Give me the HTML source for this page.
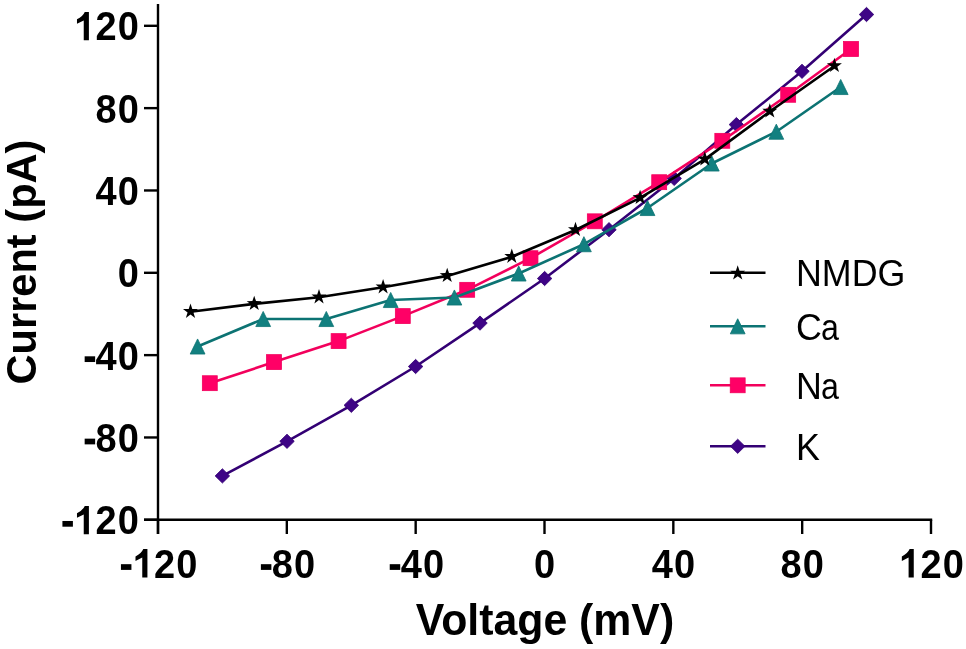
<!DOCTYPE html>
<html><head><meta charset="utf-8"><style>
html,body{margin:0;padding:0;background:#fff;}
body{width:966px;height:649px;overflow:hidden;}
svg{display:block;will-change:transform;}
.tl{font-family:"Liberation Sans",sans-serif;font-weight:bold;font-size:40px;fill:#000;}
.at{font-family:"Liberation Sans",sans-serif;font-weight:bold;font-size:42px;fill:#000;}
.lg{font-family:"Liberation Sans",sans-serif;font-size:35.8px;fill:#000;}
</style></head><body>
<svg width="966" height="649" viewBox="0 0 966 649">
<rect width="966" height="649" fill="#fff"/>
<line x1="158.0" y1="4.0" x2="158.0" y2="534.0" stroke="#000" stroke-width="2.4"/>
<line x1="144.0" y1="519.8" x2="932.2" y2="519.8" stroke="#000" stroke-width="2.4"/>
<line x1="144" y1="25.80" x2="158.0" y2="25.80" stroke="#000" stroke-width="2.4"/>
<path d="M83.74,40.30 L88.90,40.30 L88.90,11.91 L84.78,11.91 Q82.98,16.07 76.98,19.34 L76.98,23.86 L83.74,20.39 L83.74,40.30 Z" fill="#000"/>
<text transform="translate(106.14,40.30) scale(0.950,1.035)" class="tl" x="-11.12">2</text>
<text transform="translate(128.38,40.30) scale(0.950,1.035)" class="tl" x="-11.12">0</text>
<line x1="144" y1="108.13" x2="158.0" y2="108.13" stroke="#000" stroke-width="2.4"/>
<text transform="translate(106.14,122.63) scale(0.950,1.035)" class="tl" x="-11.12">8</text>
<text transform="translate(128.38,122.63) scale(0.950,1.035)" class="tl" x="-11.12">0</text>
<line x1="144" y1="190.47" x2="158.0" y2="190.47" stroke="#000" stroke-width="2.4"/>
<text transform="translate(106.14,204.97) scale(0.950,1.035)" class="tl" x="-11.12">4</text>
<text transform="translate(128.38,204.97) scale(0.950,1.035)" class="tl" x="-11.12">0</text>
<line x1="144" y1="272.80" x2="158.0" y2="272.80" stroke="#000" stroke-width="2.4"/>
<text transform="translate(128.38,287.30) scale(0.950,1.035)" class="tl" x="-11.12">0</text>
<line x1="144" y1="355.13" x2="158.0" y2="355.13" stroke="#000" stroke-width="2.4"/>
<rect x="84.66" y="356.31" width="10.48" height="5.72" fill="#000"/>
<text transform="translate(106.14,369.63) scale(0.950,1.035)" class="tl" x="-11.12">4</text>
<text transform="translate(128.38,369.63) scale(0.950,1.035)" class="tl" x="-11.12">0</text>
<line x1="144" y1="437.47" x2="158.0" y2="437.47" stroke="#000" stroke-width="2.4"/>
<rect x="84.66" y="438.65" width="10.48" height="5.72" fill="#000"/>
<text transform="translate(106.14,451.97) scale(0.950,1.035)" class="tl" x="-11.12">8</text>
<text transform="translate(128.38,451.97) scale(0.950,1.035)" class="tl" x="-11.12">0</text>
<line x1="144" y1="519.80" x2="158.0" y2="519.80" stroke="#000" stroke-width="2.4"/>
<rect x="62.42" y="520.98" width="10.48" height="5.72" fill="#000"/>
<path d="M83.74,534.30 L88.90,534.30 L88.90,505.91 L84.78,505.91 Q82.98,510.07 76.98,513.34 L76.98,517.86 L83.74,514.39 L83.74,534.30 Z" fill="#000"/>
<text transform="translate(106.14,534.30) scale(0.950,1.035)" class="tl" x="-11.12">2</text>
<text transform="translate(128.38,534.30) scale(0.950,1.035)" class="tl" x="-11.12">0</text>
<line x1="158.00" y1="519.8" x2="158.00" y2="534" stroke="#000" stroke-width="2.4"/>
<rect x="120.94" y="564.18" width="10.48" height="5.72" fill="#000"/>
<path d="M142.26,577.50 L147.42,577.50 L147.42,549.11 L143.30,549.11 Q141.50,553.27 135.50,556.54 L135.50,561.06 L142.26,557.59 L142.26,577.50 Z" fill="#000"/>
<text transform="translate(164.66,577.50) scale(0.950,1.035)" class="tl" x="-11.12">2</text>
<text transform="translate(186.90,577.50) scale(0.950,1.035)" class="tl" x="-11.12">0</text>
<line x1="286.83" y1="519.8" x2="286.83" y2="534" stroke="#000" stroke-width="2.4"/>
<rect x="260.89" y="564.18" width="10.48" height="5.72" fill="#000"/>
<text transform="translate(282.37,577.50) scale(0.950,1.035)" class="tl" x="-11.12">8</text>
<text transform="translate(304.61,577.50) scale(0.950,1.035)" class="tl" x="-11.12">0</text>
<line x1="415.67" y1="519.8" x2="415.67" y2="534" stroke="#000" stroke-width="2.4"/>
<rect x="389.73" y="564.18" width="10.48" height="5.72" fill="#000"/>
<text transform="translate(411.21,577.50) scale(0.950,1.035)" class="tl" x="-11.12">4</text>
<text transform="translate(433.45,577.50) scale(0.950,1.035)" class="tl" x="-11.12">0</text>
<line x1="544.50" y1="519.8" x2="544.50" y2="534" stroke="#000" stroke-width="2.4"/>
<text transform="translate(544.50,577.50) scale(0.950,1.035)" class="tl" x="-11.12">0</text>
<line x1="673.33" y1="519.8" x2="673.33" y2="534" stroke="#000" stroke-width="2.4"/>
<text transform="translate(662.21,577.50) scale(0.950,1.035)" class="tl" x="-11.12">4</text>
<text transform="translate(684.45,577.50) scale(0.950,1.035)" class="tl" x="-11.12">0</text>
<line x1="802.17" y1="519.8" x2="802.17" y2="534" stroke="#000" stroke-width="2.4"/>
<text transform="translate(791.05,577.50) scale(0.950,1.035)" class="tl" x="-11.12">8</text>
<text transform="translate(813.29,577.50) scale(0.950,1.035)" class="tl" x="-11.12">0</text>
<line x1="931.00" y1="519.8" x2="931.00" y2="534" stroke="#000" stroke-width="2.4"/>
<path d="M908.60,577.50 L913.76,577.50 L913.76,549.11 L909.64,549.11 Q907.84,553.27 901.84,556.54 L901.84,561.06 L908.60,557.59 L908.60,577.50 Z" fill="#000"/>
<text transform="translate(931.00,577.50) scale(0.950,1.035)" class="tl" x="-11.12">2</text>
<text transform="translate(953.24,577.50) scale(0.950,1.035)" class="tl" x="-11.12">0</text>
<text transform="translate(415.8,634.8) scale(1,1.04)" class="at" style="font-size:42.8px">Voltage (mV)</text>
<text transform="translate(35.8,384.5) rotate(-90) scale(1,1.04)" class="at" style="font-size:41.6px">Current (pA)</text>
<polyline points="222.40,475.90 287.00,441.30 351.30,405.30 415.60,366.50 480.00,323.10 544.60,278.50 609.00,229.70 674.20,178.40 736.40,124.60 802.00,71.30 866.50,14.50" fill="none" stroke="#330074" stroke-width="2.60" stroke-linejoin="round"/>
<polygon points="222.40,468.75 229.65,475.90 222.40,483.05 215.15,475.90" fill="#3e0486" stroke="#330074" stroke-width="0.8"/>
<polygon points="287.00,434.15 294.25,441.30 287.00,448.45 279.75,441.30" fill="#3e0486" stroke="#330074" stroke-width="0.8"/>
<polygon points="351.30,398.15 358.55,405.30 351.30,412.45 344.05,405.30" fill="#3e0486" stroke="#330074" stroke-width="0.8"/>
<polygon points="415.60,359.35 422.85,366.50 415.60,373.65 408.35,366.50" fill="#3e0486" stroke="#330074" stroke-width="0.8"/>
<polygon points="480.00,315.95 487.25,323.10 480.00,330.25 472.75,323.10" fill="#3e0486" stroke="#330074" stroke-width="0.8"/>
<polygon points="544.60,271.35 551.85,278.50 544.60,285.65 537.35,278.50" fill="#3e0486" stroke="#330074" stroke-width="0.8"/>
<polygon points="609.00,222.55 616.25,229.70 609.00,236.85 601.75,229.70" fill="#3e0486" stroke="#330074" stroke-width="0.8"/>
<polygon points="674.20,171.25 681.45,178.40 674.20,185.55 666.95,178.40" fill="#3e0486" stroke="#330074" stroke-width="0.8"/>
<polygon points="736.40,117.45 743.65,124.60 736.40,131.75 729.15,124.60" fill="#3e0486" stroke="#330074" stroke-width="0.8"/>
<polygon points="802.00,64.15 809.25,71.30 802.00,78.45 794.75,71.30" fill="#3e0486" stroke="#330074" stroke-width="0.8"/>
<polygon points="866.50,7.35 873.75,14.50 866.50,21.65 859.25,14.50" fill="#3e0486" stroke="#330074" stroke-width="0.8"/>
<polyline points="209.80,383.20 274.00,362.10 338.60,341.10 402.80,316.10 467.20,289.80 530.50,258.20 594.80,221.30 659.20,182.20 722.30,140.80 788.20,94.80 851.00,49.00" fill="none" stroke="#f2005c" stroke-width="2.60" stroke-linejoin="round"/>
<rect x="202.35" y="375.75" width="14.90" height="14.90" fill="#ff0066" stroke="#f2005c" stroke-width="0.8"/>
<rect x="266.55" y="354.65" width="14.90" height="14.90" fill="#ff0066" stroke="#f2005c" stroke-width="0.8"/>
<rect x="331.15" y="333.65" width="14.90" height="14.90" fill="#ff0066" stroke="#f2005c" stroke-width="0.8"/>
<rect x="395.35" y="308.65" width="14.90" height="14.90" fill="#ff0066" stroke="#f2005c" stroke-width="0.8"/>
<rect x="459.75" y="282.35" width="14.90" height="14.90" fill="#ff0066" stroke="#f2005c" stroke-width="0.8"/>
<rect x="523.05" y="250.75" width="14.90" height="14.90" fill="#ff0066" stroke="#f2005c" stroke-width="0.8"/>
<rect x="587.35" y="213.85" width="14.90" height="14.90" fill="#ff0066" stroke="#f2005c" stroke-width="0.8"/>
<rect x="651.75" y="174.75" width="14.90" height="14.90" fill="#ff0066" stroke="#f2005c" stroke-width="0.8"/>
<rect x="714.85" y="133.35" width="14.90" height="14.90" fill="#ff0066" stroke="#f2005c" stroke-width="0.8"/>
<rect x="780.75" y="87.35" width="14.90" height="14.90" fill="#ff0066" stroke="#f2005c" stroke-width="0.8"/>
<rect x="843.55" y="41.55" width="14.90" height="14.90" fill="#ff0066" stroke="#f2005c" stroke-width="0.8"/>
<polyline points="197.60,346.50 263.20,319.00 326.30,319.00 390.70,300.00 454.40,297.50 518.70,273.50 583.90,244.20 647.50,208.00 711.80,163.50 776.30,131.70 840.70,87.00" fill="none" stroke="#0c7373" stroke-width="2.60" stroke-linejoin="round"/>
<polygon points="197.60,338.95 205.00,354.05 190.20,354.05" fill="#128080" stroke="#0c7373" stroke-width="0.8" stroke-linejoin="miter"/>
<polygon points="263.20,311.45 270.60,326.55 255.80,326.55" fill="#128080" stroke="#0c7373" stroke-width="0.8" stroke-linejoin="miter"/>
<polygon points="326.30,311.45 333.70,326.55 318.90,326.55" fill="#128080" stroke="#0c7373" stroke-width="0.8" stroke-linejoin="miter"/>
<polygon points="390.70,292.45 398.10,307.55 383.30,307.55" fill="#128080" stroke="#0c7373" stroke-width="0.8" stroke-linejoin="miter"/>
<polygon points="454.40,289.95 461.80,305.05 447.00,305.05" fill="#128080" stroke="#0c7373" stroke-width="0.8" stroke-linejoin="miter"/>
<polygon points="518.70,265.95 526.10,281.05 511.30,281.05" fill="#128080" stroke="#0c7373" stroke-width="0.8" stroke-linejoin="miter"/>
<polygon points="583.90,236.65 591.30,251.75 576.50,251.75" fill="#128080" stroke="#0c7373" stroke-width="0.8" stroke-linejoin="miter"/>
<polygon points="647.50,200.45 654.90,215.55 640.10,215.55" fill="#128080" stroke="#0c7373" stroke-width="0.8" stroke-linejoin="miter"/>
<polygon points="711.80,155.95 719.20,171.05 704.40,171.05" fill="#128080" stroke="#0c7373" stroke-width="0.8" stroke-linejoin="miter"/>
<polygon points="776.30,124.15 783.70,139.25 768.90,139.25" fill="#128080" stroke="#0c7373" stroke-width="0.8" stroke-linejoin="miter"/>
<polygon points="840.70,79.45 848.10,94.55 833.30,94.55" fill="#128080" stroke="#0c7373" stroke-width="0.8" stroke-linejoin="miter"/>
<polyline points="190.50,311.80 254.20,303.90 319.00,297.30 383.10,287.30 447.20,275.90 511.80,256.80 575.50,230.00 640.10,197.90 704.80,159.40 769.80,111.50 834.40,66.00" fill="none" stroke="#000" stroke-width="2.60" stroke-linejoin="round"/>
<polygon points="190.50,303.60 192.31,309.01 198.01,309.06 193.43,312.45 195.14,317.89 190.50,314.58 185.86,317.89 187.57,312.45 182.99,309.06 188.69,309.01" fill="#000"/>
<polygon points="254.20,295.70 256.01,301.11 261.71,301.16 257.13,304.55 258.84,309.99 254.20,306.68 249.56,309.99 251.27,304.55 246.69,301.16 252.39,301.11" fill="#000"/>
<polygon points="319.00,289.10 320.81,294.51 326.51,294.56 321.93,297.95 323.64,303.39 319.00,300.08 314.36,303.39 316.07,297.95 311.49,294.56 317.19,294.51" fill="#000"/>
<polygon points="383.10,279.10 384.91,284.51 390.61,284.56 386.03,287.95 387.74,293.39 383.10,290.08 378.46,293.39 380.17,287.95 375.59,284.56 381.29,284.51" fill="#000"/>
<polygon points="447.20,267.70 449.01,273.11 454.71,273.16 450.13,276.55 451.84,281.99 447.20,278.68 442.56,281.99 444.27,276.55 439.69,273.16 445.39,273.11" fill="#000"/>
<polygon points="511.80,248.60 513.61,254.01 519.31,254.06 514.73,257.45 516.44,262.89 511.80,259.58 507.16,262.89 508.87,257.45 504.29,254.06 509.99,254.01" fill="#000"/>
<polygon points="575.50,221.80 577.31,227.21 583.01,227.26 578.43,230.65 580.14,236.09 575.50,232.78 570.86,236.09 572.57,230.65 567.99,227.26 573.69,227.21" fill="#000"/>
<polygon points="640.10,189.70 641.91,195.11 647.61,195.16 643.03,198.55 644.74,203.99 640.10,200.68 635.46,203.99 637.17,198.55 632.59,195.16 638.29,195.11" fill="#000"/>
<polygon points="704.80,151.20 706.61,156.61 712.31,156.66 707.73,160.05 709.44,165.49 704.80,162.18 700.16,165.49 701.87,160.05 697.29,156.66 702.99,156.61" fill="#000"/>
<polygon points="769.80,103.30 771.61,108.71 777.31,108.76 772.73,112.15 774.44,117.59 769.80,114.28 765.16,117.59 766.87,112.15 762.29,108.76 767.99,108.71" fill="#000"/>
<polygon points="834.40,57.80 836.21,63.21 841.91,63.26 837.33,66.65 839.04,72.09 834.40,68.78 829.76,72.09 831.47,66.65 826.89,63.26 832.59,63.21" fill="#000"/>
<line x1="710" y1="272.8" x2="765.5" y2="272.8" stroke="#000" stroke-width="2.60"/>
<polygon points="737.70,265.30 739.51,270.71 745.21,270.76 740.63,274.15 742.34,279.59 737.70,276.28 733.06,279.59 734.77,274.15 730.19,270.76 735.89,270.71" fill="#000"/>
<text transform="translate(796.0,286.1) scale(1,1.030)" class="lg">NMDG</text>
<line x1="710" y1="326.3" x2="765.5" y2="326.3" stroke="#0c7373" stroke-width="2.60"/>
<polygon points="737.70,318.75 745.10,333.85 730.30,333.85" fill="#128080" stroke="#0c7373" stroke-width="0.8" stroke-linejoin="miter"/>
<text transform="translate(796.0,339.6) scale(1,1.030)" class="lg">C</text>
<text transform="translate(821.92,339.6) scale(0.9,1.030)" class="lg" x="-1.07">a</text>
<line x1="710" y1="385.3" x2="765.5" y2="385.3" stroke="#f2005c" stroke-width="2.60"/>
<rect x="730.25" y="377.85" width="14.90" height="14.90" fill="#ff0066" stroke="#f2005c" stroke-width="0.8"/>
<text transform="translate(796.0,398.6) scale(1,1.030)" class="lg">N</text>
<text transform="translate(821.92,398.6) scale(0.9,1.030)" class="lg" x="-1.07">a</text>
<line x1="710" y1="446.3" x2="765.5" y2="446.3" stroke="#330074" stroke-width="2.60"/>
<polygon points="737.70,439.15 744.95,446.30 737.70,453.45 730.45,446.30" fill="#3e0486" stroke="#330074" stroke-width="0.8"/>
<text transform="translate(796.0,459.6) scale(1,1.030)" class="lg">K</text>
</svg>
</body></html>
